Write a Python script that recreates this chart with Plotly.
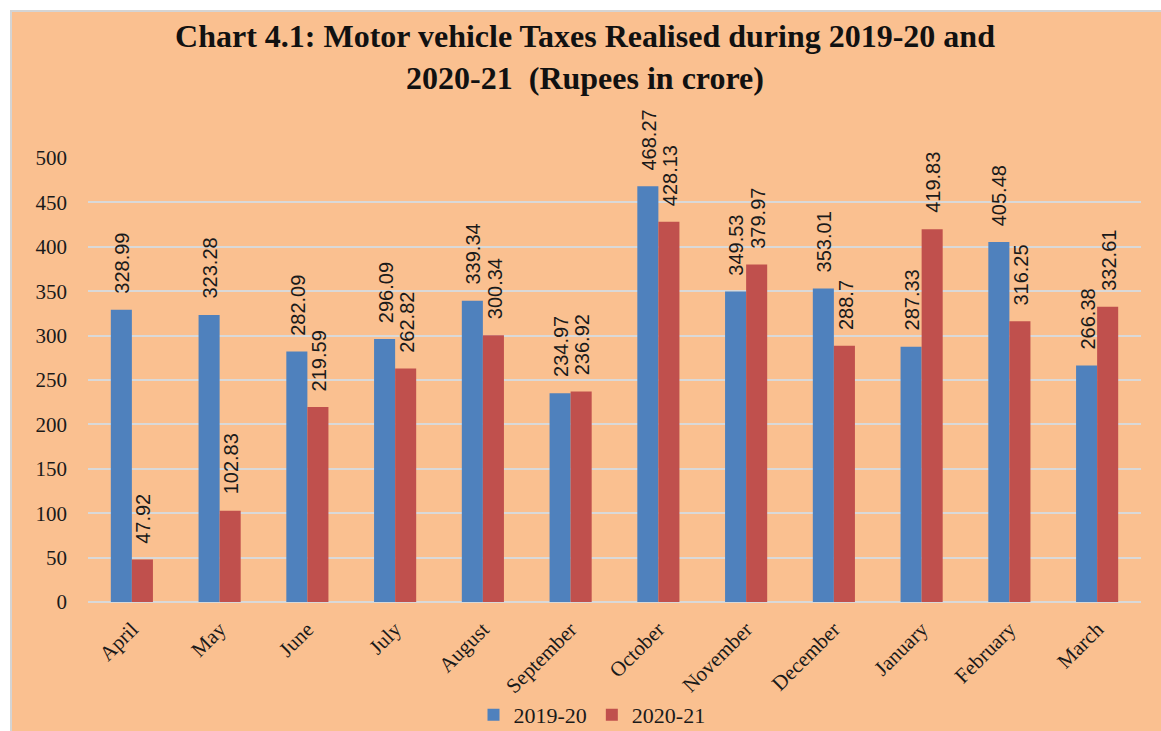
import plotly.graph_objects as go

months = ["April", "May", "June", "July", "August", "September", "October",
          "November", "December", "January", "February", "March"]
series_names = ["2019-20", "2020-21"]
values_2019_20 = [328.99, 323.28, 282.09, 296.09, 339.34, 234.97, 468.27,
                  349.53, 353.01, 287.33, 405.48, 266.38]
values_2020_21 = [47.92, 102.83, 219.59, 262.82, 300.34, 236.92, 428.13,
                  379.97, 288.7, 419.83, 316.25, 332.61]
y_ticks = [0, 50, 100, 150, 200, 250, 300, 350, 400, 450, 500]

colors = ["#4F81BD", "#C0504D"]
SERIF = "Liberation Serif, Times New Roman, serif"
SANS = "Liberation Sans, Arial, sans-serif"

W, H = 1161, 731
ML, MR, MT, MB = 88, 20, 158, 129
PW, PH = W - ML - MR, H - MT - MB


def px_x(p):
    return (p - ML) / PW


def px_y(p):
    return (H - MB - p) / PH


fig = go.Figure()
for name, vals, col in zip(series_names, [values_2019_20, values_2020_21], colors):
    fig.add_trace(go.Bar(
        x=months, y=vals, name=name, marker=dict(color=col, line=dict(width=0)),
        hoverinfo="x+y",
    ))

# data labels (rotated), anchored at the top of each bar
bar_px = PW / len(months) * 0.48 / 2
annotations = []
for k, vals in enumerate([values_2019_20, values_2020_21]):
    shift = -bar_px / 2 if k == 0 else bar_px / 2
    for m, v in zip(months, vals):
        annotations.append(dict(
            x=m, y=v, xref="x", yref="y", text=f"{v:g}", showarrow=False,
            textangle=-90, xanchor="center", yanchor="bottom",
            xshift=shift + 1, yshift=14,
            font=dict(family=SANS, size=20, color="#1a1a1a"),
        ))

fig.update_layout(
    width=W, height=H,
    margin=dict(l=ML, r=MR, t=MT, b=MB, pad=0, autoexpand=False),
    paper_bgcolor="#FFFFFF",
    plot_bgcolor="rgba(0,0,0,0)",
    barmode="group", bargap=0.52, bargroupgap=0,
    title=dict(
        text="<b>Chart 4.1: Motor vehicle Taxes Realised during 2019-20 and<br>2020-21  (Rupees in crore)</b>",
        x=585 / W, xref="container", xanchor="center",
        y=1 - 47 / H, yref="container", yanchor="middle",
        font=dict(family=SERIF, size=32, color="#111111"),
    ),
    font=dict(family=SERIF, size=21, color="#1a1a1a"),
    xaxis=dict(
        tickangle=-45, showgrid=False, showline=False, ticks="",
        tickfont=dict(family=SERIF, size=21, color="#1a1a1a"),
        ticklabelstandoff=10, automargin=False,
    ),
    yaxis=dict(
        range=[0, 500], tickvals=y_ticks, showgrid=True,
        gridcolor="#D9D9D9", gridwidth=2, zeroline=True, zerolinecolor="#D9D9D9",
        zerolinewidth=2, ticks="", showline=False,
        tickfont=dict(family=SERIF, size=21, color="#1a1a1a"),
        ticklabelstandoff=20, automargin=False,
    ),
    legend=dict(
        orientation="h", xref="container", x=592 / W, xanchor="center",
        yref="container", y=1 - 715 / H, yanchor="middle",
        font=dict(family=SERIF, size=22, color="#1a1a1a"),
        bgcolor="rgba(0,0,0,0)", itemwidth=30,
    ),
    annotations=annotations,
    shapes=[
        dict(type="rect", xref="paper", yref="paper",
             x0=px_x(11), x1=px_x(W + 40), y0=px_y(H + 40), y1=px_y(11),
             fillcolor="#FAC090", line=dict(width=0), layer="below"),
        dict(type="line", xref="paper", yref="paper",
             x0=px_x(10), x1=px_x(W + 40), y0=px_y(11), y1=px_y(11),
             line=dict(color="#D4D4D4", width=2), layer="below"),
        dict(type="line", xref="paper", yref="paper",
             x0=px_x(11), x1=px_x(11), y0=px_y(10), y1=px_y(H + 40),
             line=dict(color="#D4D4D4", width=2), layer="below"),
    ],
    showlegend=True,
)

fig.write_html(
    "out.html",
    config={"displayModeBar": False},
    post_script="document.body.style.margin='0';document.body.style.overflow='hidden';",
)
